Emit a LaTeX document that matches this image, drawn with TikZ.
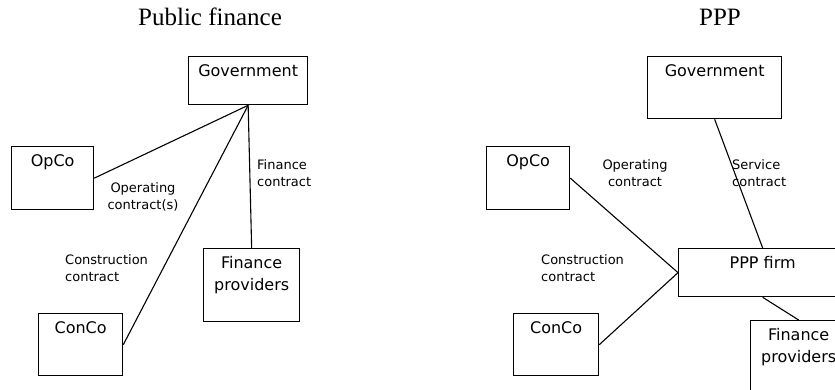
\documentclass[tikz,border=0pt]{standalone}
\usepackage{fontspec}
\newfontfamily\boxfont{DejaVu Sans}
\newfontfamily\headfont{Liberation Serif}

\begin{document}
\begin{tikzpicture}[x=1pt, y=-1pt,
every node/.style={inner sep=0pt},
firm/.style={draw, line width=1.3pt, anchor=north west},
firmname/.style={anchor=north, yshift=-8pt, align=center,
    font=\boxfont\fontsize{16}{22}\selectfont},
deal/.style={align=#1, font=\boxfont\fontsize{13}{17}\selectfont},
heading/.style={font=\headfont\fontsize{25}{30}\selectfont}
]
\useasboundingbox (0,0) rectangle (835,390);
\clip (0,0) rectangle (835,390);

% public finance
\node[heading] (pubtitle) at (210,17) {Public finance};
\node[firm, minimum width=119pt, minimum height=48pt,
    label={[firmname]north:Government}] (gov1) at (188,56) {};
\node[firm, minimum width=82pt, minimum height=63pt,
    label={[firmname]north:OpCo}] (opco1) at (11,146) {};
\node[firm, minimum width=84pt, minimum height=62pt,
    label={[firmname]north:ConCo}] (conco1) at (38,313) {};
\node[firm, minimum width=96pt, minimum height=73pt,
    label={[firmname]north:Finance\\providers}] (fin1) at (203,248) {};

% ppp
\node[heading] (ppptitle) at (720,17) {PPP};
\node[firm, minimum width=134pt, minimum height=62pt,
    label={[firmname]north:Government}] (gov2) at (647,56) {};
\node[firm, minimum width=83pt, minimum height=63pt,
    label={[firmname]north:OpCo}] (opco2) at (486,146) {};
\node[firm, minimum width=85pt, minimum height=62pt,
    label={[firmname]north:ConCo}] (conco2) at (513,313) {};
\node[firm, minimum width=168pt, minimum height=48pt,
    label={[firmname]north:PPP firm}] (ppp) at (678,248) {};
\node[firm, minimum width=96pt, minimum height=73pt,
    label={[firmname]north:Finance\\providers}] (fin2) at (750,320) {};

\foreach \a/\b in {gov1.south/opco1.east, gov1.south/conco1.east, gov1.south/fin1.north,%
                   gov2.south/ppp.north, ppp.west/opco2.east, ppp.west/conco2.east,%
                   ppp.south/fin2.north%
            }
    \draw [line width=1.1pt] (\a) -- (\b);

\node[deal=center] (opdeal1) at (143,197) {Operating\\contract(s)};
\node[deal=left, anchor=west] (findeal1) at (257,173) {Finance\\contract};
\node[deal=left, anchor=west] (condeal1) at (65,268) {Construction\\contract};
\node[deal=center] (opdeal2) at (635,173) {Operating\\contract};
\node[deal=left, anchor=west] (servdeal) at (732,173) {Service\\contract};
\node[deal=left, anchor=west] (condeal2) at (541,268) {Construction\\contract};
\end{tikzpicture}
\end{document}
